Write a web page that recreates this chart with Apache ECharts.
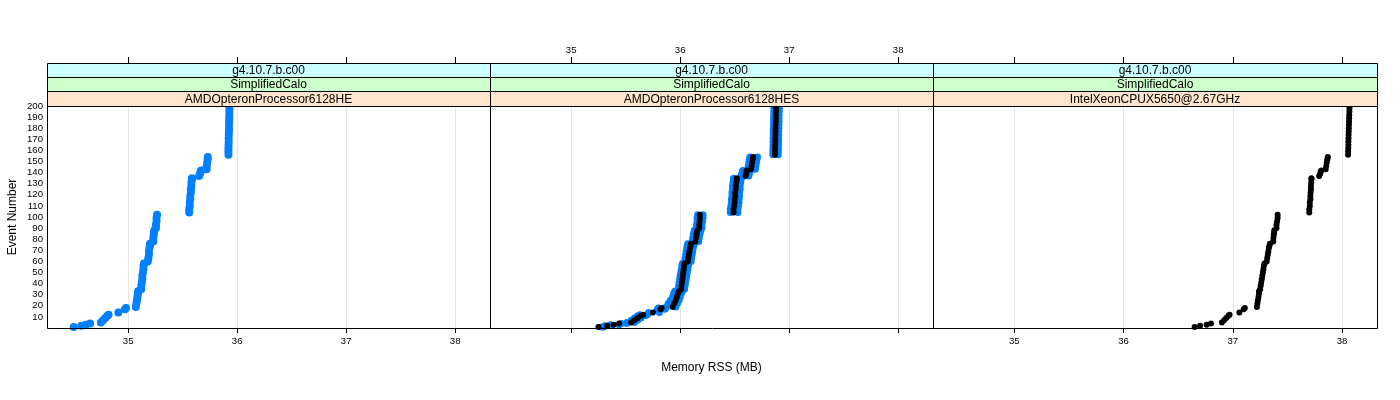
<!DOCTYPE html>
<html><head><meta charset="utf-8">
<script src="https://cdn.jsdelivr.net/npm/echarts@6/dist/echarts.min.js"></script>
<style>html,body{margin:0;padding:0;background:#fff}#c{width:1400px;height:400px}</style>
</head><body><div id="c"></div>
<script>
// Event numbers (shared by all runs)
const events = [1,2,3,4, 5,7,9,11,12, 14, 17,18, 19,22,25,28,31,33,
  35,38,41,44,47,50,53,56,58, 60,63,66,69,72,74,76, 78,81,84,86,88, 90,93,96,99,102,
  104,107,110,113,116,119,122,125,128,131,134,135, 137,139,141,142, 143,146,149,152,154,
  156,159,162,165,168,171,174,177,180,183,186,189,192,195,198,200];

// Memory RSS (MB) per event
const memAMD6128HE = [34.50,34.57,34.61,34.65, 34.75,34.77,34.79,34.81,34.82, 34.91, 34.97,34.98,
  35.07,35.075,35.08,35.085,35.09,35.09, 35.12,35.12,35.125,35.13,35.13,35.135,35.14,35.14,35.145,
  35.18,35.185,35.19,35.19,35.195,35.20,35.20, 35.23,35.23,35.235,35.235,35.24, 35.255,35.255,35.26,35.26,35.265,
  35.56,35.56,35.565,35.565,35.57,35.57,35.575,35.575,35.58,35.58,35.585,35.585, 35.65,35.66,35.665,35.67,
  35.72,35.72,35.725,35.73,35.73,
  35.92,35.92,35.92,35.921,35.922,35.922,35.923,35.924,35.925,35.925,35.926,35.927,35.928,35.928,35.929,35.93];

const memAMD6128HES = [35.25,35.33,35.39,35.44, 35.55,35.58,35.61,35.64,35.66, 35.75, 35.82,35.83,
  35.93,35.945,35.96,35.97,35.98,35.99, 36.01,36.012,36.016,36.02,36.024,36.028,36.032,36.036,36.04,
  36.07,36.075,36.08,36.085,36.09,36.095,36.10, 36.14,36.145,36.15,36.155,36.16, 36.175,36.175,36.178,36.18,36.18,
  36.49,36.49,36.495,36.50,36.50,36.505,36.505,36.51,36.51,36.515,36.52,36.52, 36.60,36.605,36.61,36.61,
  36.65,36.655,36.66,36.665,36.67,
  36.87,36.87,36.871,36.872,36.873,36.873,36.874,36.875,36.875,36.876,36.877,36.878,36.878,36.879,36.88,36.88];

const memAMD6128HES_blueA = [35.28,35.31,35.36,35.46, 35.51,35.55,35.58,35.61,35.63, 35.71, 35.79,35.80,
  35.87,35.89,35.91,35.93,35.94,35.95, 35.98,35.985,35.99,35.995,36.00,36.005,36.01,36.015,36.02,
  36.04,36.045,36.05,36.055,36.06,36.065,36.07, 36.11,36.115,36.12,36.125,36.13, 36.15,36.15,36.155,36.155,36.16,
  36.46,36.46,36.465,36.47,36.47,36.475,36.475,36.48,36.48,36.485,36.49,36.49, 36.56,36.565,36.57,36.575,
  36.62,36.625,36.63,36.635,36.64,
  36.85,36.85,36.851,36.852,36.852,36.853,36.854,36.854,36.855,36.856,36.857,36.857,36.858,36.859,36.86,36.86];

const memAMD6128HES_blueB = [35.30,35.37,35.44,35.51, 35.58,35.61,35.64,35.68,35.70, 35.81, 35.86,35.87,
  35.96,35.975,35.99,36.00,36.01,36.02, 36.04,36.045,36.05,36.055,36.06,36.065,36.07,36.075,36.08,
  36.10,36.105,36.11,36.115,36.12,36.125,36.13, 36.17,36.175,36.18,36.185,36.19, 36.20,36.20,36.205,36.21,36.21,
  36.53,36.53,36.535,36.54,36.54,36.545,36.545,36.55,36.55,36.555,36.56,36.56, 36.63,36.635,36.64,36.645,
  36.69,36.695,36.70,36.705,36.71,
  36.90,36.90,36.901,36.902,36.902,36.903,36.904,36.904,36.905,36.906,36.907,36.907,36.908,36.909,36.91,36.91];

const memIntelX5650 = [36.65,36.70,36.76,36.80, 36.90,36.92,36.94,36.96,36.97, 37.06, 37.10,37.11,
  37.22,37.225,37.23,37.235,37.24,37.24, 37.25,37.255,37.26,37.265,37.27,37.275,37.28,37.285,37.29,
  37.31,37.315,37.32,37.325,37.33,37.335,37.34, 37.37,37.372,37.375,37.378,37.38, 37.40,37.40,37.405,37.41,37.41,
  37.70,37.70,37.705,37.705,37.71,37.71,37.712,37.715,37.715,37.718,37.72,37.72, 37.79,37.80,37.805,37.81,
  37.85,37.855,37.86,37.865,37.87,
  38.055,38.056,38.057,38.058,38.058,38.059,38.06,38.061,38.062,38.063,38.064,38.065,38.066,38.067,38.068,38.068];

const xTicks = [35, 36, 37, 38];
const yTicks = [10,20,30,40,50,60,70,80,90,100,110,120,130,140,150,160,170,180,190,200];
const stripVersion = ['g4.10.7.b.c00', 'g4.10.7.b.c00', 'g4.10.7.b.c00'];
const stripPhysics = ['SimplifiedCalo', 'SimplifiedCalo', 'SimplifiedCalo'];
const stripCpu = ['AMDOpteronProcessor6128HE', 'AMDOpteronProcessor6128HES', 'IntelXeonCPUX5650@2.67GHz'];

const FONT = 'Liberation Sans, Arial, sans-serif';
const BLUE = '#0080ff';
const panelLeft = [47, 490, 933];
const panelWidth = [443, 443, 444];
const gridTop = 106, gridH = 222;
const xMin = 34.255, xMax = 38.32;

const pts = arr => events.map((e, k) => [arr[k], e]);

const grids = [], xAxes = [], yAxes = [], graphics = [];
for (let i = 0; i < 3; i++) {
  grids.push({left: panelLeft[i], top: gridTop, width: panelWidth[i], height: gridH, show: false});
  xAxes.push({type: 'value', gridIndex: i, position: 'bottom', min: xMin, max: xMax,
    name: i === 1 ? 'Memory RSS (MB)' : '', nameLocation: 'middle', nameGap: 34,
    nameTextStyle: {fontFamily: FONT, fontSize: 12, color: '#000'},
    axisLine: {show: false},
    axisTick: {show: true, length: 5, customValues: xTicks, lineStyle: {color: '#000'}},
    axisLabel: {show: i !== 1, customValues: xTicks, margin: 8, fontSize: 9.6, fontFamily: FONT, color: '#000'},
    splitLine: {show: true, lineStyle: {color: '#e6e6e6', width: 1}}});
  xAxes.push({type: 'value', gridIndex: i, position: 'top', offset: 43, min: xMin, max: xMax,
    axisLine: {show: false},
    axisTick: {show: true, length: 6, customValues: xTicks, lineStyle: {color: '#000'}},
    axisLabel: {show: i === 1, customValues: xTicks, margin: 8, fontSize: 9.6, fontFamily: FONT, color: '#000'},
    splitLine: {show: false}});
  yAxes.push({type: 'value', gridIndex: i, min: 0, max: 200,
    name: i === 0 ? 'Event Number' : '', nameLocation: 'middle', nameGap: 28,
    nameTextStyle: {fontFamily: FONT, fontSize: 12, color: '#000'},
    axisLine: {show: false}, axisTick: {show: false}, splitLine: {show: false},
    axisLabel: {show: i === 0, customValues: yTicks, margin: 4, fontSize: 9.6, fontFamily: FONT, color: '#000'}});

  const strips = [[stripVersion[i], '#ccffff', 63.5], [stripPhysics[i], '#ccffcc', 77.5], [stripCpu[i], '#ffe5cc', 91.5]];
  strips.forEach(([txt, col, y], j) => {
    const h = j === 2 ? 15 : 14;
    graphics.push({type: 'rect', z: 10, shape: {x: panelLeft[i] + 0.5, y: y, width: panelWidth[i], height: h},
      style: {fill: col, stroke: '#000', lineWidth: 1}});
    graphics.push({type: 'text', z: 11, x: panelLeft[i] + panelWidth[i] / 2, y: y + h / 2 + 0.5,
      style: {text: txt, fontSize: 12, fontFamily: FONT, fill: '#000', align: 'center', verticalAlign: 'middle'}});
  });
}
// panel frame: outer box and panel separators
graphics.push({type: 'rect', z: 12, shape: {x: 47.5, y: 106.5, width: 1330, height: 222},
  style: {fill: null, stroke: '#000', lineWidth: 1}});
graphics.push({type: 'line', z: 12, shape: {x1: 490.5, y1: 106.5, x2: 490.5, y2: 328.5}, style: {stroke: '#000', lineWidth: 1}});
graphics.push({type: 'line', z: 12, shape: {x1: 933.5, y1: 106.5, x2: 933.5, y2: 328.5}, style: {stroke: '#000', lineWidth: 1}});

const series = [
  {type: 'scatter', xAxisIndex: 0, yAxisIndex: 0, data: pts(memAMD6128HE), symbol: 'circle', symbolSize: 8,
    itemStyle: {color: BLUE, opacity: 1}, silent: true},
  {type: 'scatter', xAxisIndex: 2, yAxisIndex: 1, data: pts(memAMD6128HES_blueA), symbol: 'circle', symbolSize: 7,
    itemStyle: {color: BLUE, opacity: 1}, silent: true},
  {type: 'scatter', xAxisIndex: 2, yAxisIndex: 1, data: pts(memAMD6128HES_blueB), symbol: 'circle', symbolSize: 7,
    itemStyle: {color: BLUE, opacity: 1}, silent: true},
  {type: 'scatter', xAxisIndex: 2, yAxisIndex: 1, data: pts(memAMD6128HES), symbol: 'circle', symbolSize: 6,
    itemStyle: {color: '#000', opacity: 1}, silent: true},
  {type: 'scatter', xAxisIndex: 4, yAxisIndex: 2, data: pts(memIntelX5650), symbol: 'circle', symbolSize: 6,
    itemStyle: {color: '#000', opacity: 1}, silent: true}
];

const chart = echarts.init(document.getElementById('c'), null, {renderer: 'canvas'});
chart.setOption({
  animation: false,
  backgroundColor: '#fff',
  grid: grids, xAxis: xAxes, yAxis: yAxes, series: series,
  graphic: graphics
});
</script></body></html>
